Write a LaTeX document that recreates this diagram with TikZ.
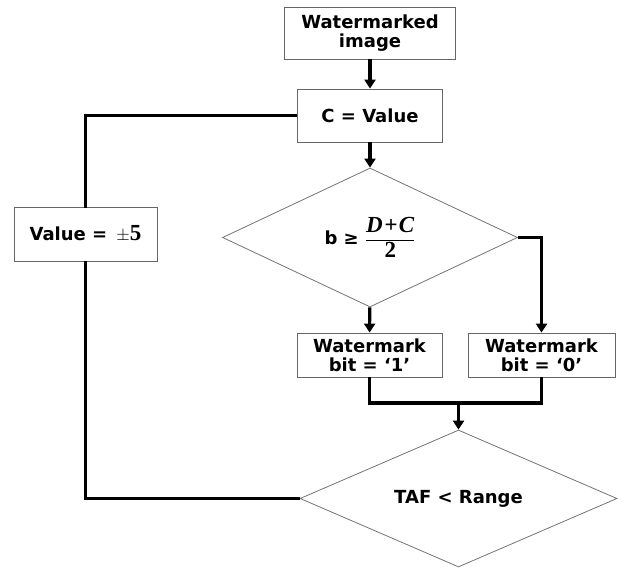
\documentclass[tikz,border=0pt]{standalone}
\usepackage{amsmath}
\usepackage[no-math]{fontspec}
\setmainfont{DejaVu Sans}
\newfontfamily\eqfont{Liberation Serif}
\usetikzlibrary{arrows.meta, positioning, shapes.geometric}
\tikzset{
  procbox/.style  = {draw=black!60, line width=0.8pt, fill=white, inner sep=0pt,
                     align=center, font=\fontsize{18}{19}\selectfont\bfseries},
  decbox/.style   = {draw=black!55, line width=0.8pt, diamond, aspect=2, inner sep=0pt,
                     align=center, font=\fontsize{18}{19}\selectfont\bfseries},
  link/.style     = {-, line width=3.2pt, black},
  flow/.style     = {-{Triangle[length=9pt,width=11pt]}, line width=3.2pt, black},
}
\newcommand{\eqtxt}[1]{\text{\eqfont\bfseries\fontsize{23}{24}\selectfont #1}}

\begin{document}
\begin{tikzpicture}[x=1pt, y=1pt]
    \useasboundingbox (0,0) rectangle (623,568);
    % --- main column --------------------------------------------------
    \node[procbox, minimum width=171pt, minimum height=52pt] (img)  at (370,535) {Watermarked\\image};
    \node[procbox, minimum width=145pt, minimum height=53pt] (cval) at (370,452.5) {C = Value};
    \node[decbox, minimum width=295pt, minimum height=139pt] (dec)  at (370,330.5)
         {b ≥ $\displaystyle\frac{\eqtxt{\itshape D\kern1.5pt+\kern1.5pt C}}{\eqtxt{2}}$};
    % --- bit decision -------------------------------------------------
    \node[procbox, minimum width=145pt, minimum height=44pt] (bit1) at (369.5,213) {Watermark\\bit = ‘1’};
    \node[procbox, minimum width=147pt, minimum height=44pt] (bit0) at (541.5,213) {Watermark\\bit = ‘0’};
    \node[decbox, minimum width=317pt, minimum height=137pt] (taf)  at (458.5,69.5) {TAF < Range};
    % --- feedback -----------------------------------------------------
    \coordinate (mrg) at (458.5,165);
    % --- edges --------------------------------------------------------
    \draw[flow] (img)  -- (cval);
    \draw[flow] (cval) -- (dec);
    \draw[flow] (dec)  -- (bit1);
    \draw[flow] (dec.east) -| (bit0.north);
    \draw[link] (bit1.south) |- (mrg) -| (bit0.south);
    \draw[flow] (mrg)  -- (taf.north);
    \draw[link] (taf.west) -| (85.5,300) coordinate (vlow);
    \draw[link] (cval.west) -| (85.5,360) coordinate (vtop);
    \node[procbox, minimum width=143pt, minimum height=54pt] (val) at (85.5,334) {Value = \,$\pm$\eqtxt{5}};
    \draw[link] (val.south) -- (vlow);
    \draw[link] (val.north) -- (vtop);
  \end{tikzpicture}
\end{document}
